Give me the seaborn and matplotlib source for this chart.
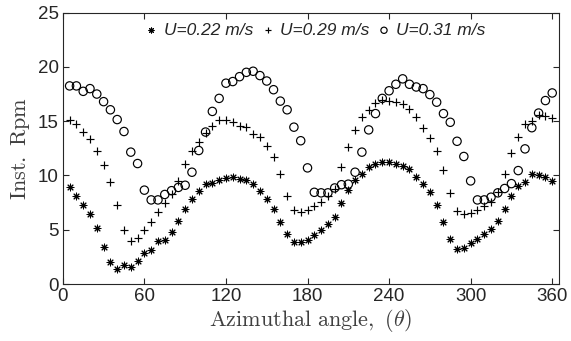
import matplotlib
matplotlib.use("Agg")
import matplotlib.pyplot as plt
import numpy as np
import pandas as pd
import seaborn as sns

# ---------------- data ----------------
angles = list(range(5, 361, 5))

rpm_022 = [8.9, 8.1, 7.3, 6.45, 5.15, 3.45, 2.0, 1.4, 1.75, 1.6, 2.15, 2.85,
           3.15, 3.95, 4.1, 4.8, 5.8, 6.9, 7.85, 8.55, 9.2, 9.3, 9.55, 9.8,
           9.9, 9.65, 9.55, 9.2, 8.55, 7.85, 6.95, 5.7, 4.65, 3.9, 3.9, 4.1,
           4.5, 4.95, 5.5, 6.2, 7.5, 8.7, 9.55, 10.15, 10.8, 11.1, 11.2, 11.2,
           11.1, 10.9, 10.6, 9.9, 9.25, 8.45, 7.3, 5.7, 4.15, 3.25, 3.3, 3.75,
           4.15, 4.6, 5.1, 5.85, 6.9, 8.15, 9.0, 9.4, 10.1, 10.0, 9.85, 9.45]

rpm_029 = [15.15, 14.7, 14.0, 13.35, 12.3, 11.0, 9.4, 7.25, 4.95, 3.95, 4.2, 4.95,
           5.7, 6.65, 7.45, 8.3, 9.45, 11.05, 12.3, 13.05, 13.95, 14.6, 15.1, 15.1,
           14.95, 14.6, 14.5, 13.8, 13.5, 12.7, 11.7, 10.15, 8.15, 6.85, 6.6, 6.8,
           7.2, 7.55, 8.1, 8.75, 10.8, 12.6, 14.2, 15.35, 16.0, 16.65, 16.95, 16.9,
           16.8, 16.55, 16.1, 15.35, 14.35, 13.45, 12.25, 10.5, 8.4, 6.75, 6.45, 6.5,
           6.8, 7.2, 7.55, 8.45, 10.15, 12.1, 13.5, 14.7, 15.05, 15.55, 15.45, 15.3]

rpm_031 = [18.25, 18.25, 17.75, 18.0, 17.5, 16.8, 16.05, 15.15, 14.05, 12.15, 11.1, 8.65,
           7.75, 7.75, 8.25, 8.6, 8.9, 9.1, 10.3, 12.3, 14.0, 15.9, 17.1, 18.5,
           18.65, 19.1, 19.5, 19.6, 19.2, 18.7, 17.9, 16.85, 16.05, 14.45, 13.2, 10.7,
           8.45, 8.4, 8.4, 8.85, 9.15, 9.2, 10.3, 12.15, 14.2, 15.7, 17.1, 17.8,
           18.4, 18.9, 18.4, 18.15, 18.0, 17.45, 16.75, 15.7, 14.9, 13.15, 11.75, 9.5,
           7.75, 7.75, 8.0, 8.4, 8.8, 9.25, 10.45, 12.45, 14.4, 15.75, 16.9, 17.6]

series_labels = ["U=0.22 m/s", "U=0.29 m/s", "U=0.31 m/s"]
xticks = [0, 60, 120, 180, 240, 300, 360]
yticks = [0, 5, 10, 15, 20, 25]

# ---------------- style ----------------
sns.set_style("ticks")
plt.rcParams["font.family"] = ["Liberation Sans", "DejaVu Sans"]
plt.rcParams["mathtext.fontset"] = "cm"
plt.rcParams["xtick.direction"] = "in"
plt.rcParams["ytick.direction"] = "in"

df = pd.concat([
    pd.DataFrame({"angle": angles, "rpm": vals, "U": lab})
    for vals, lab in zip([rpm_022, rpm_029, rpm_031], series_labels)
])

fig = plt.figure(figsize=(5.71, 3.41), dpi=100)
ax = fig.add_axes([0.110, 0.167, 0.869, 0.796])

asterisk = (8, 2, 0)
styles = {
    series_labels[0]: dict(marker=asterisk, s=24, color="black", linewidth=0.75),
    series_labels[1]: dict(marker="+", s=38, color="black", linewidth=0.85),
    series_labels[2]: dict(marker="o", s=36, facecolors="none", edgecolors="black", linewidth=0.85),
}
for lab in series_labels:
    sub = df[df["U"] == lab]
    sns.scatterplot(data=sub, x="angle", y="rpm", ax=ax, label=lab, legend=False, **styles[lab])

ax.set_xlim(0, 365)
ax.set_ylim(0, 25)
ax.set_xticks(xticks)
ax.set_yticks(yticks)
ax.tick_params(axis="both", which="both", direction="in", top=True, right=True,
               length=4, width=0.8, labelsize=13.5, colors="#262626", pad=3)
for sp in ax.spines.values():
    sp.set_linewidth(0.8)
    sp.set_color("#262626")
    sp.set_visible(True)

ax.set_xlabel(r"$\mathrm{Azimuthal\ angle,\ }(\theta)$", fontsize=16, color="#404040", labelpad=1)
ax.set_ylabel(r"$\mathrm{Inst.\ Rpm}$", fontsize=16, color="#404040", labelpad=4)

leg = ax.legend(loc="center", bbox_to_anchor=(0.51, 0.935), ncol=3, frameon=False,
                handlelength=0.6, handletextpad=0.4, columnspacing=0.55,
                markerscale=0.75, borderpad=0.1,
                prop={"style": "italic", "size": 12.5, "family": ["Liberation Sans", "DejaVu Sans"]})

fig.savefig("out.png", dpi=100)
